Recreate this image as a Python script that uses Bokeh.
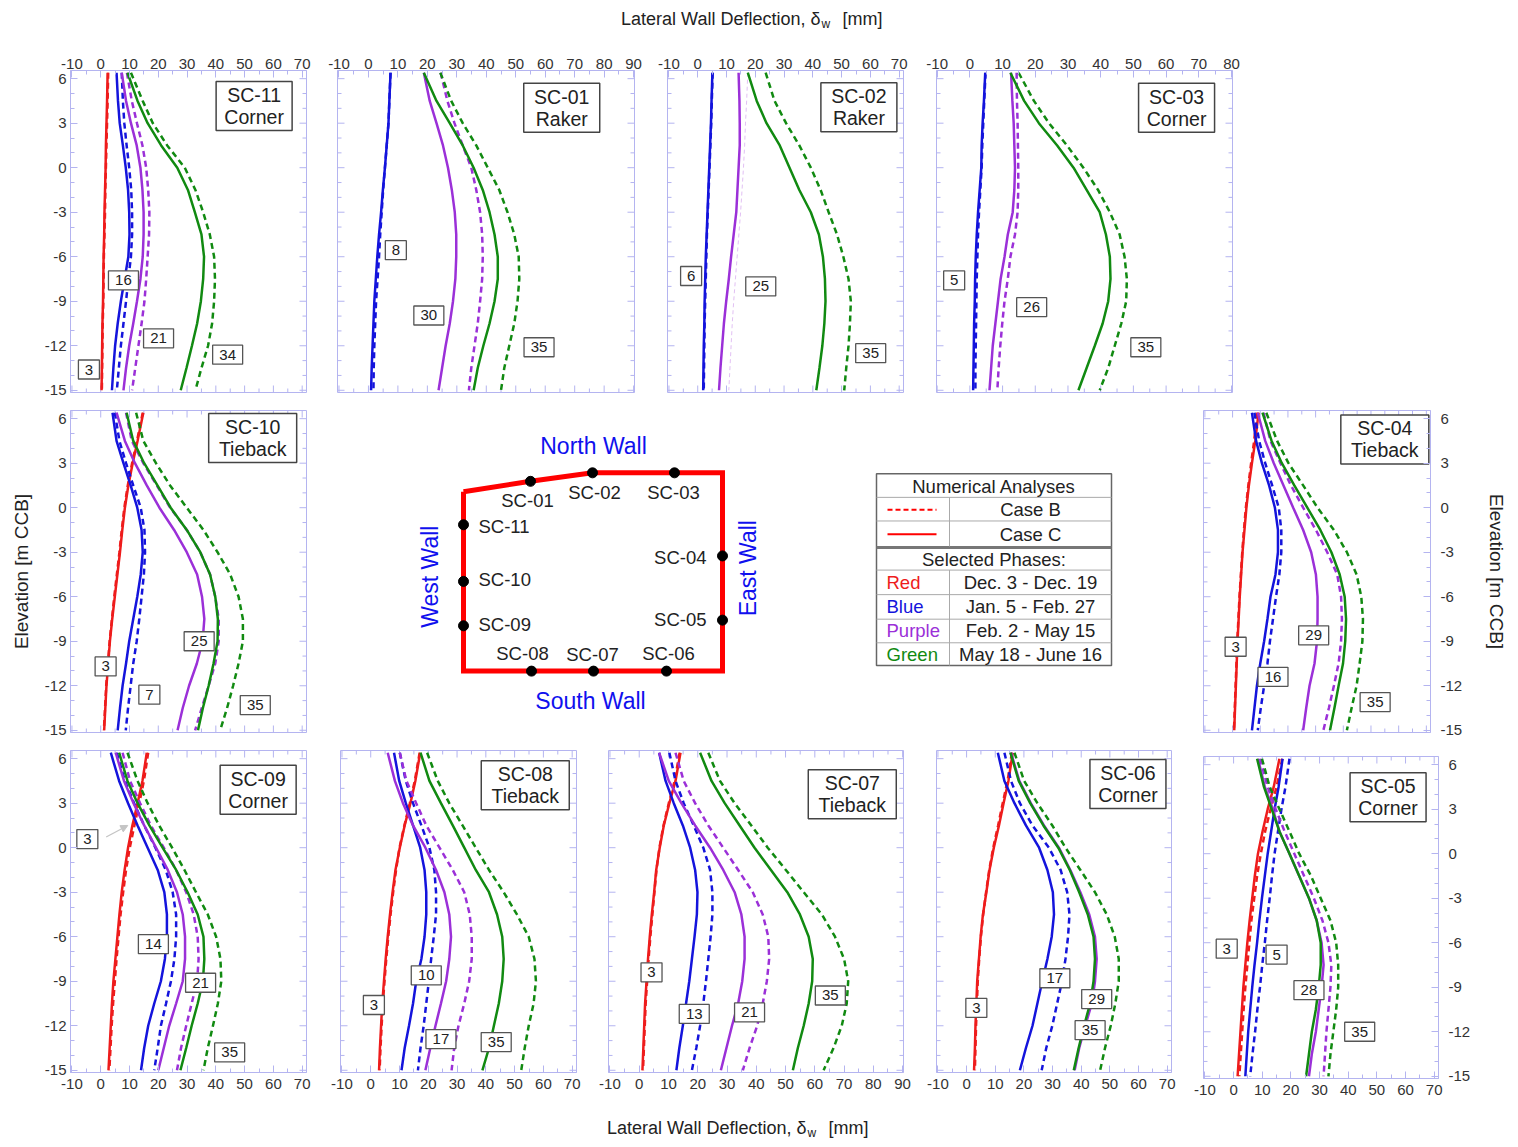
from bokeh.plotting import figure
from bokeh.models import Range1d, LinearAxis, SingleIntervalTicker, Spacer, Arrow, NormalHead
from bokeh.layouts import row, column
from bokeh.core.properties import value
from bokeh.embed import file_html
from bokeh.resources import INLINE
import math

FONT = "Liberation Sans"
RED = "#ee1c1c"
BLUE = "#1414dc"
PURPLE = "#9b30d8"
GREEN = "#118a11"
FRAME = "#b4b4f0"
INK = "#222222"

# ---------------- data ----------------
ELEV = [6.4, 4.5, 3, 1.5, 0, -1.5, -3, -4.5, -6, -7.5, -9, -10.5, -12, -13.5, -15]

SC11 = {
    "red_C": [2.4, 2.2, 2.0, 1.8, 1.7, 1.5, 1.3, 1.2, 1.0, 0.9, 0.8, 0.6, 0.5, 0.4, 0.3],
    "red_B": [2.6, 2.4, 2.2, 2.0, 1.8, 1.6, 1.5, 1.3, 1.1, 1.0, 0.9, 0.7, 0.6, 0.5, 0.4],
    "blue_C": [5.5, 6.0, 6.6, 7.7, 8.7, 9.5, 9.9, 10.0, 9.6, 8.3, 7.0, 5.9, 5.0, 4.4, 3.9],
    "blue_B": [7.3, 7.7, 8.2, 9.0, 9.9, 10.6, 10.9, 10.9, 10.5, 9.6, 8.8, 7.9, 7.0, 6.3, 5.6],
    "purple_C": [7.3, 8.8, 10.5, 12.5, 13.8, 14.5, 14.9, 14.9, 14.6, 13.8, 12.6, 11.3, 9.9, 8.8, 7.9],
    "purple_B": [9.1, 10.8, 12.6, 14.5, 15.8, 16.5, 16.9, 16.8, 16.3, 15.8, 15.2, 14.2, 13.1, 12.0, 10.9],
    "green_C": [9.3, 12.8, 16.3, 21.0, 26.6, 30.3, 32.7, 35.0, 35.9, 35.6, 34.8, 33.5, 31.7, 29.8, 27.8],
    "green_B": [10.5, 14.6, 18.1, 23.1, 29.2, 32.9, 35.6, 37.9, 39.4, 39.7, 39.4, 38.7, 37.3, 35.0, 32.9],
}
SC01 = {
    "blue_C": [7.5, 7.1, 6.8, 6.2, 5.6, 4.9, 4.3, 3.6, 3.0, 2.5, 2.0, 1.7, 1.4, 1.1, 0.9],
    "blue_B": [7.5, 7.1, 6.8, 6.2, 5.6, 5.0, 4.5, 4.0, 3.6, 3.1, 2.6, 2.3, 2.0, 1.8, 1.7],
    "purple_C": [18.8, 20.8, 23.1, 25.3, 27.0, 28.3, 29.3, 29.8, 29.8, 29.5, 28.7, 27.6, 26.2, 25.0, 23.8],
    "purple_B": [24.5, 26.8, 29.2, 32.0, 34.9, 36.6, 37.9, 38.6, 38.8, 38.6, 37.9, 37.1, 36.0, 34.9, 34.1],
    "green_C": [18.8, 23.1, 27.6, 32.0, 35.7, 38.8, 41.1, 42.8, 43.9, 43.9, 42.8, 41.1, 39.0, 37.1, 35.7],
    "green_B": [24.4, 28.1, 32.0, 36.6, 40.5, 44.4, 47.2, 49.5, 51.0, 51.2, 50.6, 49.5, 47.8, 46.1, 45.0],
}
SC02 = {
    "blue_C": [5.1, 4.8, 4.6, 4.3, 4.0, 3.7, 3.4, 3.1, 2.8, 2.6, 2.4, 2.3, 2.1, 2.0, 1.9],
    "blue_B": [5.2, 4.9, 4.7, 4.4, 4.1, 3.8, 3.5, 3.2, 3.0, 2.8, 2.6, 2.4, 2.3, 2.2, 2.1],
    "purple_C": [14.2, 14.5, 14.6, 14.6, 14.2, 13.8, 13.4, 12.5, 11.6, 10.8, 9.9, 9.1, 8.5, 7.9, 7.4],
    "purple_B": [17.4, 17.0, 16.6, 16.3, 15.9, 15.4, 14.9, 14.3, 13.7, 13.1, 12.5, 12.0, 11.6, 11.2, 10.8],
    "green_C": [17.4, 20.5, 23.9, 28.5, 31.9, 35.3, 39.3, 42.1, 43.5, 44.2, 44.4, 44.0, 43.3, 42.3, 41.2],
    "green_B": [23.6, 26.7, 30.7, 35.3, 39.3, 42.7, 45.5, 48.4, 50.6, 52.4, 53.2, 52.9, 52.4, 51.6, 50.9],
}
SC03 = {
    "blue_C": [4.7, 4.3, 3.9, 3.6, 3.5, 3.0, 2.5, 2.1, 1.8, 1.6, 1.5, 1.3, 1.2, 1.1, 1.0],
    "blue_B": [4.8, 4.4, 4.1, 3.8, 3.6, 3.2, 2.8, 2.5, 2.3, 2.1, 2.0, 1.9, 1.8, 1.7, 1.7],
    "purple_C": [12.6, 13.0, 13.4, 13.6, 13.8, 13.6, 13.1, 11.6, 10.6, 9.4, 8.6, 7.8, 7.0, 6.5, 6.0],
    "purple_B": [14.3, 14.4, 14.6, 14.7, 14.8, 14.8, 14.6, 13.8, 12.4, 11.6, 10.6, 9.9, 9.3, 8.8, 8.4],
    "green_C": [12.4, 16.6, 21.1, 26.7, 31.7, 35.7, 39.7, 41.6, 42.8, 43.0, 42.3, 40.6, 38.2, 35.7, 33.2],
    "green_B": [14.9, 19.6, 24.2, 29.7, 34.7, 39.2, 42.8, 45.8, 47.3, 48.0, 47.8, 46.3, 44.3, 42.3, 39.7],
}
SC10 = {
    "red_C": [14.8, 12.8, 11.1, 9.6, 8.4, 7.5, 6.7, 5.8, 4.9, 4.0, 3.2, 2.6, 2.0, 1.6, 1.2],
    "red_B": [14.6, 12.6, 10.9, 9.4, 8.2, 7.3, 6.5, 5.6, 4.7, 3.9, 3.1, 2.5, 1.9, 1.5, 1.1],
    "blue_C": [4.1, 5.5, 7.9, 10.4, 12.7, 14.2, 14.6, 13.9, 12.7, 11.3, 9.9, 8.8, 7.6, 6.7, 5.9],
    "blue_B": [4.9, 6.5, 8.8, 11.3, 13.9, 15.2, 15.4, 15.0, 14.2, 13.4, 12.5, 11.3, 10.4, 9.5, 8.7],
    "purple_C": [5.5, 8.4, 11.9, 16.0, 20.4, 25.5, 29.9, 33.5, 35.2, 36.0, 35.4, 33.4, 30.7, 28.5, 26.7],
    "purple_B": [8.8, 10.8, 14.8, 19.5, 24.1, 29.9, 34.6, 38.0, 39.8, 41.0, 41.0, 39.8, 37.5, 35.1, 32.8],
    "green_C": [9.0, 11.3, 15.1, 19.7, 24.3, 29.9, 34.6, 38.0, 39.8, 40.7, 40.6, 39.2, 37.5, 35.5, 33.8],
    "green_B": [12.3, 14.8, 19.2, 24.1, 29.9, 35.7, 40.6, 45.0, 47.9, 49.4, 49.4, 47.9, 46.0, 43.9, 41.5],
}
SC04 = {
    "red_C": [9.4, 8.2, 7.0, 5.9, 5.0, 4.3, 3.6, 3.1, 2.6, 2.2, 1.8, 1.5, 1.2, 0.9, 0.6],
    "red_B": [8.8, 7.8, 6.7, 5.7, 4.8, 4.1, 3.5, 3.0, 2.5, 2.1, 1.7, 1.4, 1.1, 0.8, 0.5],
    "blue_C": [7.0, 8.5, 10.6, 13.2, 15.3, 16.4, 16.4, 15.5, 13.7, 12.6, 11.4, 10.0, 8.8, 7.9, 7.0],
    "blue_B": [7.9, 9.6, 11.8, 14.3, 16.7, 17.6, 17.6, 16.9, 15.7, 14.6, 13.5, 12.6, 11.4, 10.2, 9.1],
    "purple_C": [9.1, 11.8, 14.9, 18.4, 21.9, 25.5, 28.4, 30.1, 30.7, 30.7, 30.5, 29.6, 27.8, 26.6, 25.5],
    "purple_B": [11.2, 13.7, 17.3, 21.1, 25.5, 30.1, 34.2, 37.8, 39.2, 39.5, 39.2, 38.3, 36.6, 34.8, 32.8],
    "green_C": [10.8, 14.1, 17.8, 22.3, 27.0, 31.7, 35.7, 38.7, 40.5, 41.0, 40.7, 39.9, 38.3, 36.8, 35.2],
    "green_B": [12.2, 16.1, 20.2, 25.5, 30.7, 36.6, 41.3, 44.8, 46.5, 47.1, 46.9, 45.9, 44.8, 43.0, 41.3],
}
SC09 = {
    "red_C": [16.0, 14.5, 12.8, 11.0, 9.5, 8.3, 7.3, 6.5, 5.8, 5.1, 4.4, 3.9, 3.5, 3.1, 2.7],
    "red_B": [16.5, 15.0, 13.4, 11.7, 10.1, 8.8, 7.8, 6.9, 6.2, 5.5, 4.9, 4.3, 3.8, 3.4, 3.0],
    "blue_C": [3.5, 6.4, 9.5, 12.8, 16.3, 19.8, 22.1, 23.0, 23.0, 22.3, 20.9, 18.6, 16.5, 15.1, 14.0],
    "blue_B": [5.6, 8.4, 11.6, 15.1, 19.0, 22.6, 25.0, 26.2, 26.2, 25.6, 24.4, 22.7, 20.9, 19.8, 18.6],
    "purple_C": [5.2, 8.1, 11.4, 15.1, 19.2, 23.3, 26.5, 28.5, 29.3, 29.3, 28.5, 26.2, 23.8, 21.9, 20.0],
    "purple_B": [7.6, 10.2, 13.7, 17.4, 21.9, 26.2, 29.7, 32.3, 33.7, 34.0, 33.5, 31.6, 29.7, 27.9, 26.5],
    "green_C": [6.4, 9.3, 12.8, 16.9, 21.5, 26.2, 30.2, 33.7, 35.7, 36.0, 35.5, 33.7, 31.6, 29.7, 27.7],
    "green_B": [9.3, 12.8, 16.3, 20.3, 24.8, 29.1, 33.1, 37.2, 40.1, 41.6, 41.9, 40.7, 39.0, 37.2, 35.7],
}
SC08 = {
    "red_C": [17.2, 15.5, 13.8, 11.8, 10.1, 8.6, 7.6, 6.7, 5.9, 5.2, 4.6, 4.0, 3.6, 3.2, 2.9],
    "red_B": [17.0, 15.3, 13.6, 11.7, 10.0, 8.8, 7.8, 6.9, 6.1, 5.4, 4.8, 4.2, 3.8, 3.4, 3.1],
    "blue_C": [8.1, 9.9, 12.2, 14.7, 17.2, 18.7, 19.3, 19.3, 18.7, 17.6, 15.8, 14.7, 13.3, 11.8, 10.7],
    "blue_B": [10.1, 12.2, 14.7, 17.6, 20.4, 22.1, 22.7, 22.7, 21.9, 21.0, 20.2, 19.3, 18.4, 17.3, 16.4],
    "purple_C": [5.9, 8.4, 11.2, 14.7, 19.0, 22.7, 25.6, 27.3, 27.9, 27.3, 26.2, 24.4, 22.5, 20.7, 19.0],
    "purple_B": [10.1, 12.4, 15.8, 19.3, 23.9, 28.5, 32.5, 34.4, 35.1, 35.1, 34.2, 32.5, 30.5, 29.0, 28.1],
    "green_C": [17.3, 20.4, 24.4, 28.5, 32.5, 36.5, 41.1, 43.9, 45.7, 46.2, 45.7, 44.5, 42.8, 41.1, 38.8],
    "green_B": [19.6, 23.3, 27.3, 31.9, 36.5, 41.1, 46.2, 50.8, 54.9, 56.9, 57.4, 56.6, 54.9, 53.5, 52.3],
}
SC07 = {
    "red_C": [14.1, 12.4, 10.3, 8.4, 7.0, 5.8, 5.1, 4.3, 3.6, 3.0, 2.5, 2.0, 1.7, 1.4, 1.1],
    "red_B": [13.8, 12.1, 10.1, 8.3, 6.9, 5.9, 5.2, 4.5, 3.8, 3.2, 2.7, 2.2, 1.9, 1.6, 1.3],
    "blue_C": [6.8, 9.0, 11.8, 14.9, 17.4, 19.1, 19.9, 19.7, 18.9, 18.0, 17.1, 16.0, 14.9, 13.7, 12.7],
    "blue_B": [10.3, 12.4, 15.2, 18.6, 21.9, 24.2, 25.0, 25.0, 24.4, 23.6, 22.8, 21.9, 20.8, 19.5, 18.0],
    "purple_C": [6.8, 10.1, 14.4, 19.1, 24.2, 28.7, 32.6, 34.9, 36.0, 36.0, 35.2, 33.8, 31.7, 29.8, 27.9],
    "purple_B": [12.4, 15.2, 19.1, 23.6, 28.7, 33.8, 38.8, 42.2, 44.1, 44.4, 43.6, 42.2, 40.3, 37.7, 35.4],
    "green_C": [20.8, 24.7, 29.2, 34.3, 39.4, 45.0, 50.6, 54.9, 57.9, 59.3, 59.1, 57.9, 56.2, 54.2, 52.5],
    "green_B": [23.6, 27.6, 32.6, 38.3, 43.9, 50.1, 56.2, 62.4, 66.9, 70.0, 71.4, 70.9, 69.2, 66.4, 63.0],
}
SC06 = {
    "red_C": [16.1, 14.6, 12.9, 11.3, 9.5, 8.0, 6.9, 5.7, 4.9, 4.3, 3.7, 3.4, 3.1, 2.9, 2.6],
    "red_B": [15.8, 14.3, 12.6, 11.0, 9.3, 7.9, 6.8, 5.8, 5.0, 4.4, 3.9, 3.6, 3.3, 3.1, 2.9],
    "blue_C": [10.9, 13.2, 16.7, 20.7, 25.3, 28.2, 30.1, 30.5, 29.7, 28.2, 26.4, 24.7, 23.0, 20.7, 18.6],
    "blue_B": [13.2, 15.5, 18.6, 23.0, 28.7, 32.8, 35.1, 35.9, 35.4, 34.5, 33.3, 31.6, 29.9, 27.8, 26.2],
    "purple_C": [15.5, 18.4, 22.4, 27.0, 32.2, 36.2, 39.7, 42.8, 44.8, 45.4, 44.8, 43.7, 41.4, 39.3, 37.7],
    "green_C": [15.3, 18.2, 22.2, 26.8, 32.0, 36.0, 39.3, 42.3, 44.3, 44.8, 44.3, 43.1, 41.0, 39.1, 37.4],
    "green_B": [16.7, 20.1, 24.7, 29.9, 34.5, 39.7, 44.8, 48.9, 51.7, 53.1, 53.1, 51.9, 50.3, 48.3, 46.6],
}
SC05 = {
    "red_C": [16.0, 14.0, 11.9, 10.1, 8.5, 7.4, 6.5, 5.6, 4.8, 4.1, 3.4, 2.9, 2.4, 1.9, 1.4],
    "red_B": [17.0, 15.0, 12.9, 11.0, 9.5, 8.2, 7.2, 6.2, 5.5, 4.8, 4.1, 3.5, 3.0, 2.5, 2.0],
    "blue_C": [17.1, 15.7, 14.3, 13.1, 11.9, 10.9, 9.9, 9.0, 8.2, 7.3, 6.5, 5.8, 5.1, 4.6, 4.1],
    "blue_B": [19.5, 18.1, 16.7, 15.5, 14.3, 13.4, 12.6, 11.7, 10.9, 10.0, 9.2, 8.3, 7.5, 6.6, 5.8],
    "purple_C": [8.5, 10.9, 13.7, 16.0, 19.5, 22.9, 26.3, 29.0, 30.7, 31.4, 30.7, 29.7, 28.7, 27.3, 26.3],
    "purple_B": [9.2, 11.9, 14.7, 17.8, 21.2, 24.6, 28.0, 31.0, 33.1, 34.1, 33.8, 33.1, 32.4, 31.9, 31.4],
    "green_C": [8.2, 10.6, 13.3, 16.0, 19.5, 22.9, 26.3, 29.0, 30.4, 30.4, 29.7, 28.7, 27.3, 26.3, 25.3],
    "green_B": [9.9, 12.6, 16.0, 19.5, 22.9, 27.0, 30.4, 33.8, 35.8, 36.5, 36.5, 35.8, 34.8, 33.8, 33.1],
}

# number tags: (text, x [mm], elevation [m])
TAGS = {
    "SC-11": [("3", -4.1, -13.6), ("16", 7.9, -7.6), ("21", 20.1, -11.5), ("34", 44.1, -12.6)],
    "SC-01": [("8", 9.3, -5.56), ("30", 20.5, -9.96), ("35", 57.9, -12.1)],
    "SC-02": [("6", -2.3, -7.3), ("25", 21.9, -8.0), ("35", 60.1, -12.5)],
    "SC-03": [("5", -4.8, -7.6), ("26", 18.9, -9.4), ("35", 53.8, -12.1)],
    "SC-10": [("3", 1.7, -10.7), ("7", 16.9, -12.6), ("25", 34.2, -9.0), ("35", 53.7, -13.3)],
    "SC-04": [("3", 1.1, -9.37), ("16", 14.6, -11.4), ("29", 29.3, -8.6), ("35", 51.5, -13.1)],
    "SC-09": [("3", -4.65, 0.58), ("14", 18.3, -6.5), ("21", 34.7, -9.1), ("35", 44.8, -13.8)],
    "SC-08": [("3", 1.1, -10.6), ("10", 19.3, -8.6), ("17", 24.4, -12.9), ("35", 43.6, -13.1)],
    "SC-07": [("3", 4.2, -8.4), ("13", 18.8, -11.2), ("21", 37.7, -11.1), ("35", 65.3, -9.96)],
    "SC-06": [("3", 3.4, -10.8), ("17", 30.8, -8.8), ("29", 45.4, -10.2), ("35", 43.1, -12.3)],
    "SC-05": [("3", -2.4, -6.4), ("5", 15.0, -6.8), ("28", 26.3, -9.2), ("35", 44.0, -12.0)],
}
# panel titles: (wall support type, x, elevation)
TITLES = {
    "SC-11": ("Corner", 53.3, 4.15), "SC-01": ("Raker", 65.6, 4.04),
    "SC-02": ("Raker", 56.0, 4.08), "SC-03": ("Corner", 63.2, 4.04),
    "SC-10": ("Tieback", 52.8, 4.7), "SC-04": ("Tieback", 55.0, 4.6),
    "SC-09": ("Corner", 54.7, 3.9), "SC-08": ("Tieback", 53.7, 4.2),
    "SC-07": ("Tieback", 72.8, 3.6), "SC-06": ("Corner", 56.3, 4.3),
    "SC-05": ("Corner", 53.9, 3.8),
}

# plan of the excavation (relative units) and inclinometer stations
WALL_X = [0, 67, 129, 259, 259, 0, 0]
WALL_Y = [190, 201, 210, 210, 0, 0, 190]
STATIONS = ["SC-01", "SC-02", "SC-03", "SC-04", "SC-05", "SC-06", "SC-07", "SC-08", "SC-09", "SC-10", "SC-11"]
ST_X = [67, 129, 211, 259, 259, 203, 130, 68, 0, 0, 0]
ST_Y = [201, 210, 210, 122, 54, 0, 0, 0, 48, 95, 155]

PHASES = ["Red", "Blue", "Purple", "Green"]
PHASE_DATES = ["Dec. 3 - Dec. 19", "Jan. 5 - Feb. 27", "Feb. 2 - May 15", "May 18 - June 16"]
CASES = ["Case B", "Case C"]

COLORS = {"red": RED, "blue": BLUE, "purple": PURPLE, "green": GREEN}
YR = (-15.15, 6.55)
FH = 322
Y_MAJOR = [-15, -12, -9, -6, -3, 0, 3, 6]
Y_MINOR = [v for v in range(-15, 7) if v % 3 != 0]
TICK_FS = "15px"
LW = 2.5


def style_axis(ax, standoff):
    ax.axis_line_color = FRAME
    ax.major_tick_line_color = FRAME
    ax.minor_tick_line_color = FRAME
    ax.major_tick_in = 7
    ax.major_tick_out = 0
    ax.minor_tick_in = 4
    ax.minor_tick_out = 0
    ax.major_label_text_font = FONT
    ax.major_label_text_color = "#333333"
    ax.major_label_text_font_size = TICK_FS
    ax.major_label_standoff = standoff


def panel(name, data, xr, xmax, lb, fw, rb, tb, bb, show, axis_label_side=None, faint=()):
    p = figure(width=lb + fw + rb, height=tb + FH + bb,
               x_range=Range1d(*xr), y_range=Range1d(*YR),
               x_axis_type=None, y_axis_type=None, toolbar_location=None,
               output_backend="svg", title=None,
               min_border_left=lb, min_border_right=rb,
               min_border_top=tb, min_border_bottom=bb)
    p.outline_line_color = FRAME
    p.background_fill_color = "white"
    p.border_fill_color = "white"
    x_major = list(range(-10, xmax + 1, 10))
    x_minor = list(range(-5, xmax, 10))
    xlab = {v: str(v) for v in x_major}
    ylab = {v: str(v) for v in Y_MAJOR}
    for side in ("above", "below"):
        if side in show:
            ax = LinearAxis(ticker=SingleIntervalTicker(interval=10, num_minor_ticks=2),
                            major_label_overrides=xlab)
            style_axis(ax, 2 if side == "above" else 6)
            p.add_layout(ax, side)
        else:
            yy = YR[1] if side == "above" else YR[0]
            p.scatter(x_major, [yy] * len(x_major), marker="dash", size=14, angle=math.pi / 2,
                      line_color=FRAME, line_width=1)
            p.scatter(x_minor, [yy] * len(x_minor), marker="dash", size=8, angle=math.pi / 2,
                      line_color=FRAME, line_width=1)
    for side in ("left", "right"):
        if side in show:
            ax = LinearAxis(ticker=SingleIntervalTicker(interval=3, num_minor_ticks=3),
                            major_label_overrides=ylab)
            style_axis(ax, 4 if side == "left" else 10)
            if side == axis_label_side:
                ax.axis_label = "Elevation [m CCB]"
                ax.axis_label_text_font = FONT
                ax.axis_label_text_font_size = "19px"
                ax.axis_label_text_font_style = "normal"
                ax.axis_label_text_color = INK
                ax.axis_label_standoff = 10 if side == "left" else 21
            p.add_layout(ax, side)
        else:
            xx = xr[0] if side == "left" else xr[1]
            p.scatter([xx] * len(Y_MAJOR), Y_MAJOR, marker="dash", size=14,
                      line_color=FRAME, line_width=1)
            p.scatter([xx] * len(Y_MINOR), Y_MINOR, marker="dash", size=8,
                      line_color=FRAME, line_width=1)

    for key in ("red", "blue", "purple", "green"):
        col = COLORS[key]
        if key + "_C" in data:
            p.line(data[key + "_C"], ELEV, line_color=col, line_width=LW)
        if key + "_B" in data:
            if key + "_B" in faint:
                p.line(data[key + "_B"], ELEV, line_color=col, line_width=1.0,
                       line_alpha=0.3, line_dash="4 3")
            else:
                p.line(data[key + "_B"], ELEV, line_color=col, line_width=LW, line_dash="6 4")

    # number tags
    tags = TAGS[name]
    p.rect([t[1] for t in tags], [t[2] for t in tags],
           width=[12 + 9 * len(t[0]) for t in tags], height=19,
           width_units="screen", height_units="screen",
           fill_color="white", line_color="#555555", line_width=1.3)
    p.text([t[1] for t in tags], [t[2] for t in tags], text=[t[0] for t in tags],
           text_align="center", text_baseline="middle",
           text_font=value(FONT), text_font_size=value("15px"), text_color=INK)

    # title box
    kind, tx, ty = TITLES[name]
    bw = 88 if kind == "Tieback" else 76
    p.rect([tx], [ty], width=bw, height=49, width_units="screen", height_units="screen",
           fill_color="white", line_color="#444444", line_width=1.5)
    dy = 11 * (YR[1] - YR[0]) / FH
    p.text([tx, tx], [ty + dy, ty - dy], text=[name, kind],
           text_align="center", text_baseline="middle",
           text_font=value(FONT), text_font_size=value("19.5px"), text_color=INK)
    return p


R70 = (-10.5, 71.5)
R90 = (-10.5, 90.3)
R80 = (-10.2, 80.3)

# top row (page y 46..401)
p11 = panel("SC-11", SC11, R70, 70, 70, 236, 15, 24, 9, ("above", "left"))
p01 = panel("SC-01", SC01, R90, 90, 16, 297, 16, 24, 9, ("above",))
p02 = panel("SC-02", SC02, R70, 70, 17, 236, 16, 24, 9, ("above",), faint=("purple_B",))
p03 = panel("SC-03", SC03, R80, 80, 17, 296, 18, 24, 9, ("above",))
top = row(p11, p01, p02, p03, Spacer(width=260, height=355))

# middle row (page y 401..742)
p10 = panel("SC-10", SC10, R70, 70, 70, 236, 14, 9, 10, ("left",), axis_label_side="left")
p04 = panel("SC-04", SC04, R70, 70, 13, 234, 73, 9, 10, ("right",), axis_label_side="right")

# centre: plan view + legend (1 unit = 1 px)
cx0, cy0 = 463, 677   # page position of plan origin (bottom-left corner of walls)
pc = figure(width=870, height=341, x_range=Range1d(320 - cx0, 1190 - cx0),
            y_range=Range1d(cy0 - 742, cy0 - 401), x_axis_type=None, y_axis_type=None,
            toolbar_location=None, output_backend="svg", title=None,
            min_border_left=0, min_border_right=0, min_border_top=0, min_border_bottom=0)
pc.outline_line_color = None
pc.line(WALL_X, WALL_Y, line_color="#ff0000", line_width=5, line_join="miter")
pc.scatter(ST_X, ST_Y, size=10, color="black")

LAB_FS = value("18.5px")
lab_dx = [-3, 2, -1, -16, -16, 2, -1, -9, 15, 15, 15]
lab_dy = [-20, -21, -21, -2, 1, 19, 18, 19, 1, 2, -2]
lab_al = ["center", "center", "center", "right", "right", "center", "center", "center", "left", "left", "left"]
for al in ("center", "left", "right"):
    idx = [i for i in range(len(STATIONS)) if lab_al[i] == al]
    pc.text([ST_X[i] + lab_dx[i] for i in idx], [ST_Y[i] + lab_dy[i] for i in idx],
            text=[STATIONS[i] for i in idx], text_align=al, text_baseline="middle",
            text_font=value(FONT), text_font_size=LAB_FS, text_color=INK)

WALL_BLUE = "#1010ee"
pc.text([130, 127], [238, -32], text=["North Wall", "South Wall"], text_align="center",
        text_baseline="middle", text_font=value(FONT), text_font_size=value("23px"),
        text_color=WALL_BLUE)
pc.text([-34, 284], [100, 109], text=["West Wall", "East Wall"], angle=math.pi / 2,
        text_align="center", text_baseline="middle", text_font=value(FONT),
        text_font_size=value("23px"), text_color=WALL_BLUE)


def X(px):
    return px - cx0


def Y(py):
    return cy0 - py


# legend table
L, Rr, T, B, VX = 876, 1111, 468, 671, 949
pc.quad(left=[X(L)], right=[X(Rr)], top=[Y(T)], bottom=[Y(B)], fill_color="white",
        line_color="#666666", line_width=1.5)
hl = [493, 518, 570, 596, 622, 647]
pc.multi_line([[X(L), X(Rr)] for _ in hl], [[Y(h), Y(h)] for h in hl],
              line_color="#aaaaaa", line_width=1)
pc.line([X(L), X(Rr)], [Y(546), Y(546)], line_color="#777777", line_width=3)
pc.multi_line([[X(VX), X(VX)], [X(VX), X(VX)]], [[Y(493), Y(545)], [Y(570), Y(B)]],
              line_color="#aaaaaa", line_width=1)
pc.line([X(887), X(936)], [Y(506), Y(506)], line_color="#ff0000", line_width=2, line_dash="5 3")
pc.line([X(887), X(936)], [Y(532), Y(532)], line_color="#ff0000", line_width=2)

row_y = [583, 609, 634.5, 659]
pc.text([X(993.5), X(1030), X(1030), X(993.5)], [Y(481), Y(506), Y(532), Y(558.5)],
        text=["Numerical Analyses", CASES[0], CASES[1], "Selected Phases:"],
        text_align="center", text_baseline="middle", text_font=value(FONT),
        text_font_size=LAB_FS, text_color=INK)
pc.text([X(886)] * 4, [Y(v) for v in row_y], text=PHASES,
        text_color=[RED, BLUE, PURPLE, GREEN], text_align="left", text_baseline="middle",
        text_font=value(FONT), text_font_size=LAB_FS)
pc.text([X(1030)] * 4, [Y(v) for v in row_y], text=PHASE_DATES, text_align="center",
        text_baseline="middle", text_font=value(FONT), text_font_size=LAB_FS,
        text_color=INK)

mid = row(p10, pc, p04)

# bottom row (page y 742..1102)
p09 = panel("SC-09", SC09, R70, 70, 70, 236, 17, 8, 30, ("below", "left"))
p09.add_layout(Arrow(end=NormalHead(size=7, fill_color="#c4c4c4", line_color="#c4c4c4"),
                     x_start=1.9, y_start=0.72, x_end=9.4, y_end=1.5,
                     line_color="#c4c4c4", line_width=1.2))
p08 = panel("SC-08", SC08, R70, 70, 17, 236, 16, 8, 30, ("below",))
p07 = panel("SC-07", SC07, R90, 90, 16, 295, 16, 8, 30, ("below",))
p06 = panel("SC-06", SC06, R70, 70, 17, 235, 16, 8, 30, ("below",))
p05 = panel("SC-05", SC05, R70, 70, 16, 235, 72, 8, 24, ("below", "right"))
col05 = column(Spacer(width=323, height=6), p05)
bot = row(p09, p08, p07, p06, col05)


def caption(h, y):
    c = figure(width=1510, height=h, x_range=Range1d(0, 1510), y_range=Range1d(y + h, y),
               x_axis_type=None, y_axis_type=None, toolbar_location=None,
               output_backend="svg", title=None, min_border_left=0, min_border_right=0,
               min_border_top=0, min_border_bottom=0)
    c.outline_line_color = None
    return c


def axis_title(c, xr_edge, y):
    c.text([xr_edge], [y], text=["Lateral Wall Deflection, δ"], text_align="right",
           text_baseline="middle", text_font=value(FONT), text_font_size=value("18px"),
           text_color=INK)
    c.text([xr_edge + 1], [y + 5], text=["w"], text_align="left", text_baseline="middle",
           text_font=value(FONT), text_font_size=value("12px"), text_color=INK)
    c.text([xr_edge + 22], [y], text=["[mm]"], text_align="left", text_baseline="middle",
           text_font=value(FONT), text_font_size=value("18px"), text_color=INK)


hdr = caption(46, 0)
axis_title(hdr, 820, 18)
ftr = caption(37, 1102)
axis_title(ftr, 806, 1127)

page = column(hdr, top, mid, bot, ftr)
open("out.html", "w").write(file_html(page, INLINE))
